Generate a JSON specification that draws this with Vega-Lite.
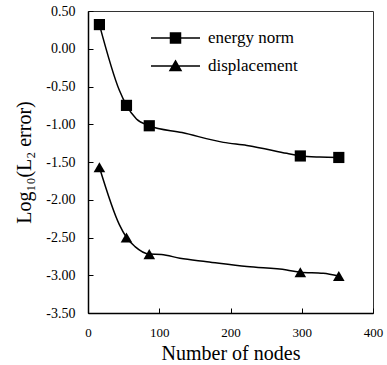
{
  "$schema": "https://vega.github.io/schema/vega-lite/v6.json",
  "width": 285,
  "height": 302,
  "autosize": {"type": "none"},
  "padding": {"left": 88, "top": 11, "right": 14, "bottom": 52},
  "background": "white",
  "config": {
    "view": {"stroke": "#333", "strokeWidth": 1},
    "font": "Liberation Serif",
    "axis": {
      "grid": false,
      "domainColor": "black",
      "domainWidth": 1.5,
      "tickColor": "black",
      "labelColor": "black",
      "titleColor": "black",
      "titleFont": "Liberation Serif",
      "labelFont": "Liberation Serif",
      "titleFontWeight": "normal",
      "titleFontSize": 20,
      "tickSize": -5,
      "labelFlush": false,
      "labelOverlap": false
    }
  },
  "data": {
    "values": [
      {"series": "energy norm", "nodes": 16, "value": 0.32, "marker": true},
      {"series": "energy norm", "nodes": 44, "value": -0.55, "marker": false},
      {"series": "energy norm", "nodes": 54, "value": -0.75, "marker": true},
      {"series": "energy norm", "nodes": 68, "value": -0.93, "marker": false},
      {"series": "energy norm", "nodes": 86, "value": -1.02, "marker": true},
      {"series": "energy norm", "nodes": 132, "value": -1.11, "marker": false},
      {"series": "energy norm", "nodes": 190, "value": -1.24, "marker": false},
      {"series": "energy norm", "nodes": 223, "value": -1.28, "marker": false},
      {"series": "energy norm", "nodes": 279, "value": -1.385, "marker": false},
      {"series": "energy norm", "nodes": 298, "value": -1.42, "marker": true},
      {"series": "energy norm", "nodes": 325, "value": -1.435, "marker": false},
      {"series": "energy norm", "nodes": 352, "value": -1.44, "marker": true},
      {"series": "displacement", "nodes": 16, "value": -1.57, "marker": true},
      {"series": "displacement", "nodes": 44, "value": -2.33, "marker": false},
      {"series": "displacement", "nodes": 54, "value": -2.5, "marker": true},
      {"series": "displacement", "nodes": 66, "value": -2.62, "marker": false},
      {"series": "displacement", "nodes": 86, "value": -2.72, "marker": true},
      {"series": "displacement", "nodes": 103, "value": -2.725, "marker": false},
      {"series": "displacement", "nodes": 129, "value": -2.775, "marker": false},
      {"series": "displacement", "nodes": 167, "value": -2.82, "marker": false},
      {"series": "displacement", "nodes": 223, "value": -2.885, "marker": false},
      {"series": "displacement", "nodes": 279, "value": -2.93, "marker": false},
      {"series": "displacement", "nodes": 298, "value": -2.96, "marker": true},
      {"series": "displacement", "nodes": 330, "value": -2.975, "marker": false},
      {"series": "displacement", "nodes": 352, "value": -3.01, "marker": true}
    ]
  },
  "encoding": {
    "x": {
      "field": "nodes",
      "type": "quantitative",
      "scale": {"domain": [0, 400], "nice": false, "zero": false},
      "axis": {
        "title": "Number of nodes",
        "values": [0, 100, 200, 300, 400],
        "labelFontSize": 13,
        "labelPadding": 18,
        "titlePadding": 4
      }
    },
    "y": {
      "field": "value",
      "type": "quantitative",
      "scale": {"domain": [-3.5, 0.5], "nice": false, "zero": false},
      "axis": {
        "title": "Log₁₀(L₂ error)",
        "values": [-3.5, -3, -2.5, -2, -1.5, -1, -0.5, 0, 0.5],
        "labelExpr": "replace(format(datum.value, '.2f'), '\u2212', '-')",
        "labelFontSize": 14,
        "labelPadding": 18,
        "titlePadding": 11
      }
    }
  },
  "layer": [
    {
      "mark": {"type": "line", "interpolate": "monotone", "strokeWidth": 1.5},
      "encoding": {
        "color": {
          "field": "series",
          "type": "nominal",
          "scale": {"domain": ["energy norm", "displacement"], "range": ["black", "black"]},
          "legend": {
            "title": null,
            "orient": "none",
            "legendX": 79,
            "legendY": 18.5,
            "labelFontSize": 17,
            "labelFont": "Liberation Serif",
            "labelColor": "black",
            "symbolSize": 100,
            "labelOffset": 24,
            "rowPadding": 10,
            "encode": {
              "symbols": {
                "update": {
                  "shape": {"signal": "datum.label === 'energy norm' ? 'M-4.9,0H4.9M-1,-1H1V1H-1Z' : 'M-4.9,0H4.9M0,-1L1.1,0.9H-1.1Z'"},
                  "fill": {"value": "black"},
                  "stroke": {"value": "black"},
                  "strokeWidth": {"value": 1.5},
                  "opacity": {"value": 1}
                }
              }
            }
          }
        }
      }
    },
    {
      "transform": [{"filter": "datum.marker"}],
      "mark": {"type": "point", "filled": true, "opacity": 1, "color": "black"},
      "encoding": {
        "shape": {"condition": {"test": "datum.series === 'energy norm'", "value": "square"}, "value": "triangle-up"},
        "size": {"condition": {"test": "datum.series === 'energy norm'", "value": 125}, "value": 135}
      }
    }
  ]
}
